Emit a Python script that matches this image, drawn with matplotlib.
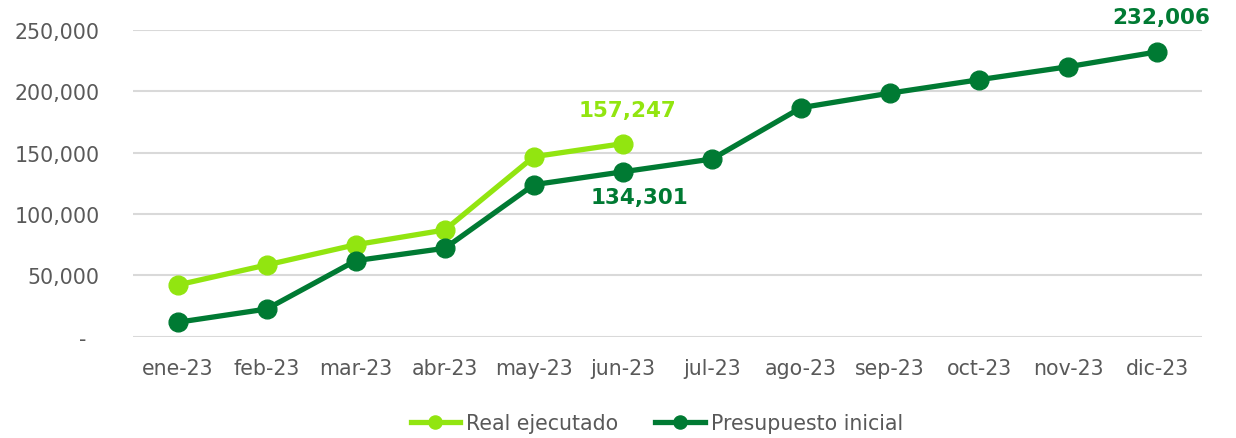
from matplotlib import pyplot as plt
import matplotlib.ticker as plticker

meses = ['ene-23', 'feb-23', 'mar-23', 'abr-23', 'may-23', 'jun-23',
         'jul-23', 'ago-23', 'sep-23', 'oct-23', 'nov-23', 'dic-23']
real = [42100, 58400, 74900, 86900, 146600, 157247]
presupuesto = [11700, 22500, 61900, 72000, 123800, 134301,
               144700, 186500, 198400, 209300, 219900, 232006]

verde_claro = '#92E510'
verde_oscuro = '#007A33'
gris = '#595959'

plt.rcParams['font.family'] = ['DejaVu Sans']
fig = plt.figure(figsize=(12.36, 4.39), dpi=100)
ax = fig.add_axes([0.1076, 0.2308, 0.8649, 0.6992])

x = list(range(len(meses)))
ax.plot(x[:len(real)], real, color=verde_claro, lw=3.8, marker='o', ms=13.5,
        label='Real ejecutado', zorder=3)
ax.plot(x, presupuesto, color=verde_oscuro, lw=3.8, marker='o', ms=13.5,
        label='Presupuesto inicial', zorder=3)

# etiquetas de datos
ax.annotate(f'{real[-1]:,}', (x[len(real) - 1], real[-1]), xytext=(3, 17),
            textcoords='offset points', ha='center', va='bottom',
            color=verde_claro, fontsize=15.5, fontweight='bold', annotation_clip=False)
ax.annotate(f'{presupuesto[5]:,}', (x[5], presupuesto[5]), xytext=(12, -11),
            textcoords='offset points', ha='center', va='top',
            color=verde_oscuro, fontsize=15.5, fontweight='bold', annotation_clip=False)
ax.annotate(f'{presupuesto[-1]:,}', (x[-1], presupuesto[-1]), xytext=(3, 18),
            textcoords='offset points', ha='center', va='bottom',
            color=verde_oscuro, fontsize=15.5, fontweight='bold', annotation_clip=False)

ax.set_xlim(-0.5, len(meses) - 0.5)
ax.set_ylim(0, 250000)
ax.set_xticks(x)
ax.set_xticklabels(meses)
ax.yaxis.set_major_locator(plticker.MultipleLocator(50000))
ax.yaxis.set_major_formatter(plticker.FuncFormatter(
    lambda v, p: '-  ' if v == 0 else f'{int(v):,}'))
ax.tick_params(axis='both', length=0, labelsize=14.8, labelcolor=gris)
ax.tick_params(axis='x', pad=15)
ax.tick_params(axis='y', pad=24)

ax.grid(axis='y', color='#D9D9D9', lw=1.5)
ax.set_axisbelow(True)
for s in ax.spines.values():
    s.set_visible(False)

leg = ax.legend(loc='upper center', bbox_to_anchor=(0.49, -0.19), ncol=2,
                frameon=False, fontsize=14.8, handlelength=2.4, handletextpad=0.3,
                columnspacing=1.8, markerscale=0.7)
for t in leg.get_texts():
    t.set_color(gris)

plt.savefig('out.png', dpi=100)
